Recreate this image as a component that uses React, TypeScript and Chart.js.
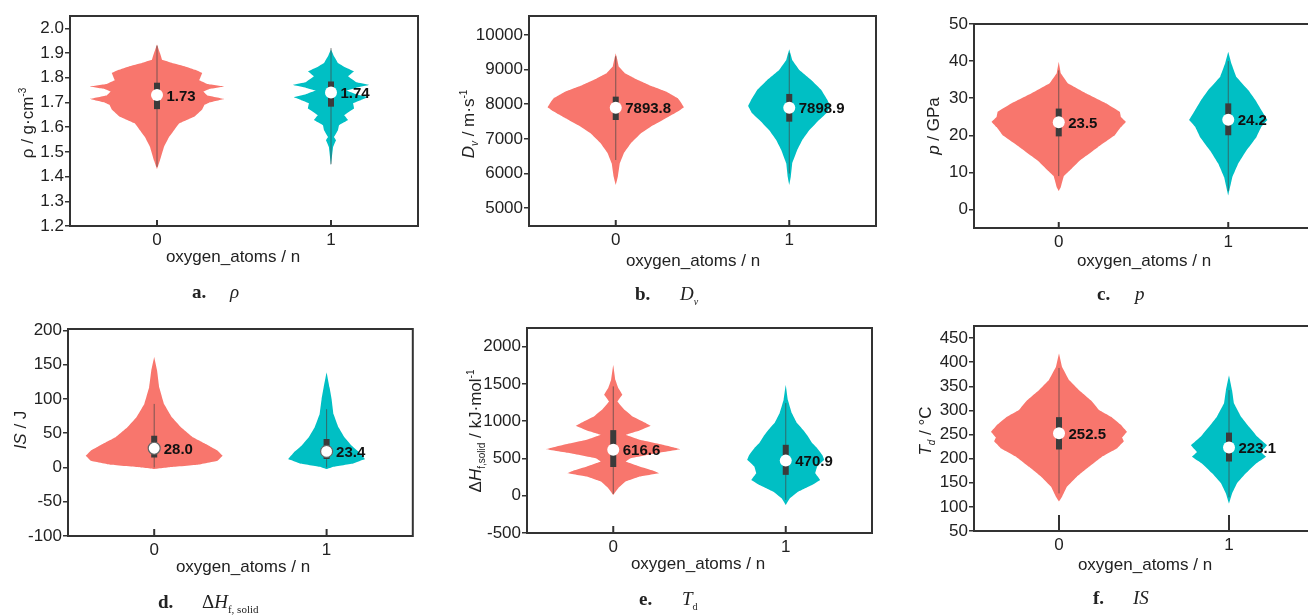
import React, { useEffect, useRef } from 'react';
import { Chart, registerables } from 'chart.js';

Chart.register(...registerables);
Chart.defaults.font.family = "'Liberation Sans', Arial, sans-serif";
Chart.defaults.color = '#222';

// ---------------- data ----------------
const CATEGORIES = ['0', '1'];
const FILL_COLORS = ['#F8766D', '#00BFC4'];

// a. density
const A_Y_TICKS = [1.2, 1.3, 1.4, 1.5, 1.6, 1.7, 1.8, 1.9, 2.0];
const A_MEDIANS = [1.73, 1.74];
const A_MEDIAN_LABELS = ['1.73', '1.74'];
const A_Q1 = [1.673, 1.683];
const A_Q3 = [1.78, 1.785];
const A_WHISKER_LOW = [1.44, 1.45];
const A_WHISKER_HIGH = [1.93, 1.92];
const A_V0_VALUES = [1.43, 1.465, 1.52, 1.56, 1.588, 1.615, 1.642, 1.672, 1.69, 1.7, 1.714, 1.728, 1.744, 1.755, 1.765, 1.775, 1.79, 1.819, 1.832, 1.846, 1.86, 1.873, 1.9, 1.935];
const A_V0_WIDTHS = [0, 0.017, 0.04, 0.069, 0.098, 0.127, 0.214, 0.26, 0.272, 0.301, 0.387, 0.289, 0.266, 0.301, 0.387, 0.289, 0.243, 0.26, 0.22, 0.162, 0.087, 0.029, 0.017, 0];
const A_V1_VALUES = [1.445, 1.52, 1.547, 1.56, 1.588, 1.608, 1.629, 1.649, 1.676, 1.697, 1.71, 1.721, 1.733, 1.748, 1.76, 1.771, 1.782, 1.806, 1.826, 1.845, 1.86, 1.887, 1.914];
const A_V1_WIDTHS = [0, 0.012, 0.029, 0.017, 0.04, 0.046, 0.098, 0.075, 0.133, 0.127, 0.173, 0.214, 0.145, 0.087, 0.145, 0.22, 0.145, 0.098, 0.133, 0.075, 0.04, 0.017, 0];

// b. detonation velocity
const B_Y_TICKS = [5000, 6000, 7000, 8000, 9000, 10000];
const B_MEDIANS = [7893.8, 7898.9];
const B_MEDIAN_LABELS = ['7893.8', '7898.9'];
const B_Q1 = [7543, 7495];
const B_Q3 = [8217, 8295];
const B_WHISKER_LOW = [6390, 6000];
const B_WHISKER_HIGH = [9380, 9470];
const B_V0_VALUES = [5665, 5905, 6290, 6580, 6870, 7158, 7350, 7592, 7786, 7910, 8050, 8169, 8362, 8506, 8699, 8892, 9084, 9300, 9471];
const B_V0_WIDTHS = [0, 0.012, 0.023, 0.046, 0.087, 0.145, 0.202, 0.289, 0.358, 0.393, 0.376, 0.358, 0.289, 0.214, 0.127, 0.052, 0.017, 0.008, 0];
const B_V1_VALUES = [5665, 5905, 6290, 6676, 6965, 7254, 7495, 7737, 7948, 8121, 8410, 8699, 8988, 9277, 9586];
const B_V1_WIDTHS = [0, 0.009, 0.017, 0.046, 0.075, 0.116, 0.162, 0.214, 0.237, 0.22, 0.185, 0.127, 0.058, 0.017, 0];

// c. pressure
const C_Y_TICKS = [0, 10, 20, 30, 40, 50];
const C_MEDIANS = [23.5, 24.2];
const C_MEDIAN_LABELS = ['23.5', '24.2'];
const C_Q1 = [19.7, 20.0];
const C_Q3 = [27.2, 28.6];
const C_WHISKER_LOW = [9, 5];
const C_WHISKER_HIGH = [37.5, 40];
const C_V0_VALUES = [5, 6, 9, 10.5, 13.2, 16.8, 20, 22.2, 23.6, 24.9, 26.3, 28.6, 31.3, 34, 36.7, 39.8];
const C_V0_WIDTHS = [0, 0.012, 0.03, 0.065, 0.124, 0.231, 0.331, 0.367, 0.396, 0.367, 0.361, 0.278, 0.16, 0.053, 0.012, 0];
const C_V1_VALUES = [3.8, 8.7, 12.4, 15.9, 19.5, 22.3, 24.1, 26.8, 29.5, 32.2, 35.8, 39.4, 42.5];
const C_V1_WIDTHS = [0, 0.024, 0.059, 0.107, 0.166, 0.195, 0.231, 0.195, 0.16, 0.118, 0.047, 0.018, 0];

// d. impact sensitivity
const D_Y_TICKS = [-100, -50, 0, 50, 100, 150, 200];
const D_MEDIANS = [28.0, 23.4];
const D_MEDIAN_LABELS = ['28.0', '23.4'];
const D_Q1 = [14.6, 12.2];
const D_Q3 = [46.3, 41.5];
const D_WHISKER_LOW = [0, 0];
const D_WHISKER_HIGH = [92.7, 85];
const D_V0_VALUES = [-2.4, 0.5, 3.9, 9.8, 17.1, 24.4, 34.1, 43.9, 58.5, 73.1, 92.7, 117, 141, 161];
const D_V0_WIDTHS = [0, 0.098, 0.253, 0.368, 0.397, 0.368, 0.299, 0.224, 0.155, 0.103, 0.057, 0.029, 0.017, 0];
const D_V1_VALUES = [-2.4, 1, 5.9, 12.2, 22, 32, 44, 58.5, 78, 100, 117, 139];
const D_V1_WIDTHS = [0, 0.04, 0.155, 0.224, 0.19, 0.144, 0.103, 0.069, 0.04, 0.029, 0.017, 0];

// e. heat of formation
const E_Y_TICKS = [-500, 0, 500, 1000, 1500, 2000];
const E_MEDIANS = [616.6, 470.9];
const E_MEDIAN_LABELS = ['616.6', '470.9'];
const E_Q1 = [385, 280];
const E_Q3 = [880, 683];
const E_WHISKER_LOW = [25, -56];
const E_WHISKER_HIGH = [1466, 1243];
const E_V0_VALUES = [11, 101, 190, 257, 302, 337, 391, 458, 504, 571, 625, 683, 750, 817, 875, 938, 996, 1063, 1153, 1265, 1355, 1445, 1556, 1758];
const E_V0_WIDTHS = [0, 0.029, 0.071, 0.153, 0.265, 0.229, 0.153, 0.071, 0.1, 0.247, 0.388, 0.288, 0.153, 0.071, 0.153, 0.218, 0.171, 0.112, 0.065, 0.024, 0.053, 0.029, 0.012, 0];
const E_V1_VALUES = [-124, -34, 55, 145, 212, 302, 391, 481, 548, 638, 706, 795, 884, 974, 1109, 1288, 1489];
const E_V1_WIDTHS = [0, 0.024, 0.071, 0.153, 0.2, 0.171, 0.182, 0.224, 0.212, 0.182, 0.153, 0.129, 0.1, 0.065, 0.035, 0.012, 0];

// f. decomposition temperature
const F_Y_TICKS = [50, 100, 150, 200, 250, 300, 350, 400, 450];
const F_MEDIANS = [252.5, 223.1];
const F_MEDIAN_LABELS = ['252.5', '223.1'];
const F_Q1 = [219, 194];
const F_Q3 = [286, 254];
const F_WHISKER_LOW = [128, 120];
const F_WHISKER_HIGH = [388, 342];
const F_V0_VALUES = [111, 121, 142, 163, 183, 204, 221, 236, 244, 256, 270, 287, 301, 321, 342, 363, 390, 418];
const F_V0_WIDTHS = [0, 0.018, 0.047, 0.106, 0.176, 0.253, 0.341, 0.382, 0.371, 0.4, 0.365, 0.306, 0.235, 0.188, 0.118, 0.059, 0.018, 0];
const F_V1_VALUES = [107, 128, 149, 170, 190, 204, 214, 228, 246, 266, 287, 315, 342, 373];
const F_V1_WIDTHS = [0, 0.018, 0.047, 0.1, 0.159, 0.218, 0.188, 0.224, 0.165, 0.118, 0.071, 0.029, 0.018, 0];

// ---------------- layout ----------------
const Y_W = 62;
const X_H = 30;
const PAD_TOP = 12;
const PAD_RIGHT = 6;

const SUP: React.CSSProperties = { fontSize: 10, verticalAlign: 'super', lineHeight: 0 };
const SUB: React.CSSProperties = { fontSize: 10, verticalAlign: 'sub', lineHeight: 0 };

type Panel = {
  id: string;
  box: [number, number, number, number];
  yMin: number; yMax: number; yTicks: number[]; decimals: number;
  medians: number[]; labels: string[]; q1: number[]; q3: number[]; wLo: number[]; wHi: number[];
  violins: { values: number[]; widths: number[] }[];
  tickLen: number; medianBorder: number;
  yTitle: React.ReactNode; yTitlePos: [number, number];
  xTitlePos: [number, number];
  capLetter: string; capLetterPos: [number, number]; capSymbol: React.ReactNode; capSymbolX: number;
};

const PANELS: Panel[] = [
  {
    id: 'a', box: [70, 16, 418, 226], yMin: 1.2, yMax: 2.05, yTicks: A_Y_TICKS, decimals: 1,
    medians: A_MEDIANS, labels: A_MEDIAN_LABELS, q1: A_Q1, q3: A_Q3, wLo: A_WHISKER_LOW, wHi: A_WHISKER_HIGH,
    violins: [{ values: A_V0_VALUES, widths: A_V0_WIDTHS }, { values: A_V1_VALUES, widths: A_V1_WIDTHS }],
    tickLen: 6, medianBorder: 0,
    yTitle: <span>ρ / g·cm<span style={SUP}>-3</span></span>, yTitlePos: [27, 123],
    xTitlePos: [233, 256],
    capLetter: 'a.', capLetterPos: [192, 281], capSymbol: <i>ρ</i>, capSymbolX: 230,
  },
  {
    id: 'b', box: [529, 16, 876, 226], yMin: 4486, yMax: 10543, yTicks: B_Y_TICKS, decimals: 0,
    medians: B_MEDIANS, labels: B_MEDIAN_LABELS, q1: B_Q1, q3: B_Q3, wLo: B_WHISKER_LOW, wHi: B_WHISKER_HIGH,
    violins: [{ values: B_V0_VALUES, widths: B_V0_WIDTHS }, { values: B_V1_VALUES, widths: B_V1_WIDTHS }],
    tickLen: 6, medianBorder: 0,
    yTitle: <span><i>D</i><i style={SUB}>v</i> / m·s<span style={SUP}>-1</span></span>, yTitlePos: [468, 124],
    xTitlePos: [693, 260],
    capLetter: 'b.', capLetterPos: [635, 283], capSymbol: <span><i>D</i><i style={SUB}>v</i></span>, capSymbolX: 680,
  },
  {
    id: 'c', box: [974, 24, 1313, 228], yMin: -5, yMax: 50, yTicks: C_Y_TICKS, decimals: 0,
    medians: C_MEDIANS, labels: C_MEDIAN_LABELS, q1: C_Q1, q3: C_Q3, wLo: C_WHISKER_LOW, wHi: C_WHISKER_HIGH,
    violins: [{ values: C_V0_VALUES, widths: C_V0_WIDTHS }, { values: C_V1_VALUES, widths: C_V1_WIDTHS }],
    tickLen: 6, medianBorder: 0,
    yTitle: <span><i>p</i> / GPa</span>, yTitlePos: [933, 126],
    xTitlePos: [1144, 260],
    capLetter: 'c.', capLetterPos: [1097, 283], capSymbol: <i>p</i>, capSymbolX: 1135,
  },
  {
    id: 'd', box: [68, 329, 414, 536], yMin: -100, yMax: 202, yTicks: D_Y_TICKS, decimals: 0,
    medians: D_MEDIANS, labels: D_MEDIAN_LABELS, q1: D_Q1, q3: D_Q3, wLo: D_WHISKER_LOW, wHi: D_WHISKER_HIGH,
    violins: [{ values: D_V0_VALUES, widths: D_V0_WIDTHS }, { values: D_V1_VALUES, widths: D_V1_WIDTHS }],
    tickLen: 7, medianBorder: 1.2,
    yTitle: <span><i>IS</i> / J</span>, yTitlePos: [20, 430],
    xTitlePos: [243, 566],
    capLetter: 'd.', capLetterPos: [158, 591], capSymbol: <span>Δ<i>H</i><span style={{ ...SUB, fontSize: 11 }}>f, solid</span></span>, capSymbolX: 202,
  },
  {
    id: 'e', box: [527, 328, 872, 533], yMin: -500, yMax: 2250, yTicks: E_Y_TICKS, decimals: 0,
    medians: E_MEDIANS, labels: E_MEDIAN_LABELS, q1: E_Q1, q3: E_Q3, wLo: E_WHISKER_LOW, wHi: E_WHISKER_HIGH,
    violins: [{ values: E_V0_VALUES, widths: E_V0_WIDTHS }, { values: E_V1_VALUES, widths: E_V1_WIDTHS }],
    tickLen: 7, medianBorder: 0,
    yTitle: <span>Δ<i>H</i><span style={SUB}>f,solid</span> / kJ·mol<span style={SUP}>-1</span></span>, yTitlePos: [475, 431],
    xTitlePos: [698, 563],
    capLetter: 'e.', capLetterPos: [639, 588], capSymbol: <span><i>T</i><span style={SUB}>d</span></span>, capSymbolX: 682,
  },
  {
    id: 'f', box: [974, 326, 1314, 531], yMin: 50, yMax: 475, yTicks: F_Y_TICKS, decimals: 0,
    medians: F_MEDIANS, labels: F_MEDIAN_LABELS, q1: F_Q1, q3: F_Q3, wLo: F_WHISKER_LOW, wHi: F_WHISKER_HIGH,
    violins: [{ values: F_V0_VALUES, widths: F_V0_WIDTHS }, { values: F_V1_VALUES, widths: F_V1_WIDTHS }],
    tickLen: 16, medianBorder: 0,
    yTitle: <span><i>T</i><i style={SUB}>d</i> / °C</span>, yTitlePos: [925, 431],
    xTitlePos: [1145, 564],
    capLetter: 'f.', capLetterPos: [1093, 587], capSymbol: <i>IS</i>, capSymbolX: 1133,
  },
];

function makeFramePlugin(p: Panel) {
  return {
    id: 'violinFrame',
    afterDatasetsDraw(chart: any) {
      const { ctx, chartArea: a, scales } = chart;
      ctx.save();
      ctx.strokeStyle = '#333';
      ctx.lineWidth = 2;
      ctx.strokeRect(a.left, a.top, a.right - a.left, a.bottom - a.top);
      CATEGORIES.forEach((_, i) => {
        const px = scales.x.getPixelForValue(i);
        ctx.beginPath();
        ctx.moveTo(px, a.bottom);
        ctx.lineTo(px, a.bottom - p.tickLen);
        ctx.stroke();
      });
      ctx.font = "bold 15px 'Liberation Sans', Arial, sans-serif";
      ctx.fillStyle = '#111';
      ctx.textBaseline = 'middle';
      ctx.textAlign = 'left';
      p.labels.forEach((t, i) => {
        ctx.fillText(t, scales.x.getPixelForValue(i) + 9.5, scales.y.getPixelForValue(p.medians[i]) + 1.5);
      });
      ctx.restore();
    },
  };
}

function makeConfig(p: Panel): any {
  const datasets: any[] = [];
  datasets.push({
    label: 'median',
    data: CATEGORIES.map((_, i) => ({ x: i, y: p.medians[i] })),
    showLine: false,
    pointRadius: 6,
    pointBackgroundColor: '#ffffff',
    pointBorderColor: '#666',
    pointBorderWidth: p.medianBorder,
    order: 0,
  });
  CATEGORIES.forEach((_, i) => {
    datasets.push({
      label: 'box',
      data: [{ x: i, y: p.q1[i] }, { x: i, y: p.q3[i] }],
      showLine: true, borderColor: '#3b3b3b', borderWidth: 6, borderCapStyle: 'butt',
      pointRadius: 0, order: 1,
    });
    datasets.push({
      label: 'whisker',
      data: [{ x: i, y: p.wLo[i] }, { x: i, y: p.wHi[i] }],
      showLine: true, borderColor: 'rgba(70,70,70,0.7)', borderWidth: 1,
      pointRadius: 0, order: 2,
    });
    const v = p.violins[i];
    const right = v.values.map((y, k) => ({ x: i + v.widths[k], y }));
    const left = v.values.map((y, k) => ({ x: i - v.widths[k], y })).reverse();
    datasets.push({
      label: 'violin',
      data: [...right, ...left],
      showLine: true, fill: 'shape', backgroundColor: FILL_COLORS[i],
      borderColor: 'rgba(0,0,0,0)', borderWidth: 0, pointRadius: 0, tension: 0.001,
      order: 3,
    });
  });

  return {
    type: 'scatter',
    data: { datasets },
    options: {
      responsive: false,
      animation: false,
      devicePixelRatio: 1,
      events: [],
      layout: { padding: { top: PAD_TOP, right: PAD_RIGHT, left: 0, bottom: 0 } },
      plugins: { legend: { display: false }, tooltip: { enabled: false } },
      scales: {
        x: {
          type: 'linear', min: -0.5, max: 1.5,
          afterBuildTicks: (s: any) => { s.ticks = CATEGORIES.map((_, i) => ({ value: i })); },
          afterFit: (s: any) => { s.height = X_H; },
          ticks: {
            callback: (val: any) => CATEGORIES[Math.round(Number(val))],
            padding: -4, font: { size: 17 }, color: '#222', autoSkip: false, maxRotation: 0,
          },
          grid: { display: false },
          border: { display: false },
        },
        y: {
          type: 'linear', min: p.yMin, max: p.yMax,
          afterBuildTicks: (s: any) => { s.ticks = p.yTicks.map((value) => ({ value })); },
          afterFit: (s: any) => { s.width = Y_W; },
          ticks: {
            callback: (val: any) => Number(val).toFixed(p.decimals),
            padding: 1, font: { size: 17 }, color: '#222', autoSkip: false,
          },
          grid: { drawOnChartArea: false, drawTicks: true, tickLength: 5, color: '#333', lineWidth: 1.5 },
          border: { display: false },
        },
      },
    },
    plugins: [makeFramePlugin(p)],
  };
}

function ViolinPanel({ p }: { p: Panel }) {
  const ref = useRef<HTMLCanvasElement>(null);
  const [l, t, r, b] = p.box;
  const w = Y_W + (r - l) + PAD_RIGHT;
  const h = PAD_TOP + (b - t) + X_H;
  useEffect(() => {
    const chart = new Chart(ref.current as HTMLCanvasElement, makeConfig(p));
    return () => chart.destroy();
  }, [p]);
  return (
    <canvas
      ref={ref}
      width={w}
      height={h}
      style={{ position: 'absolute', left: l - Y_W, top: t - PAD_TOP, width: w, height: h }}
    />
  );
}

export default function App() {
  return (
    <div
      style={{
        position: 'absolute', left: 0, top: 0, width: 1308, height: 616, overflow: 'hidden',
        background: '#fff', fontFamily: "'Liberation Sans', Arial, sans-serif", color: '#222',
      }}
    >
      {PANELS.map((p) => <ViolinPanel key={p.id} p={p} />)}
      {PANELS.map((p) => (
        <React.Fragment key={p.id + '-text'}>
          <div
            style={{
              position: 'absolute', left: p.yTitlePos[0], top: p.yTitlePos[1], fontSize: 17, lineHeight: 1,
              whiteSpace: 'nowrap', transform: 'translate(-50%, -50%) rotate(-90deg)',
            }}
          >
            {p.yTitle}
          </div>
          <div
            style={{
              position: 'absolute', left: p.xTitlePos[0], top: p.xTitlePos[1], fontSize: 17, lineHeight: 1,
              whiteSpace: 'nowrap', transform: 'translate(-50%, -50%)',
            }}
          >
            oxygen_atoms / n
          </div>
          <div
            style={{
              position: 'absolute', left: p.capLetterPos[0], top: p.capLetterPos[1],
              fontFamily: "'Liberation Serif', 'Times New Roman', serif", fontWeight: 'bold', fontSize: 19, lineHeight: '22px',
              whiteSpace: 'nowrap',
            }}
          >
            {p.capLetter}
          </div>
          <div
            style={{
              position: 'absolute', left: p.capSymbolX, top: p.capLetterPos[1],
              fontFamily: "'Liberation Serif', 'Times New Roman', serif", fontSize: 19, lineHeight: '22px',
              whiteSpace: 'nowrap',
            }}
          >
            {p.capSymbol}
          </div>
        </React.Fragment>
      ))}
    </div>
  );
}
